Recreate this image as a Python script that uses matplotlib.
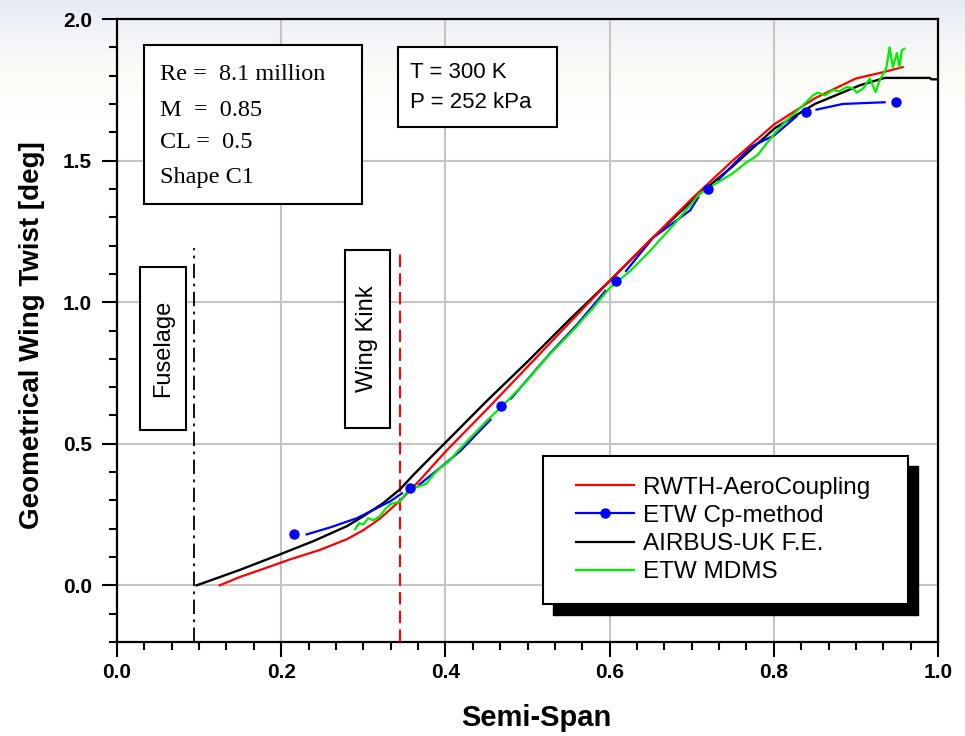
import numpy as np
import matplotlib
matplotlib.use("Agg")
import matplotlib.pyplot as plt
from matplotlib.lines import Line2D
from matplotlib.patches import Rectangle

# ---------------- data ----------------
rwth_x = [0.125, 0.15, 0.18, 0.211, 0.247, 0.28, 0.30, 0.32, 0.345, 0.369, 0.39, 0.402,
          0.45, 0.5, 0.55, 0.6, 0.631, 0.65, 0.7, 0.75, 0.8, 0.85, 0.9, 0.93, 0.957]
rwth_y = [0.0, 0.03, 0.06, 0.092, 0.125, 0.163, 0.195, 0.235, 0.30, 0.372, 0.44, 0.478,
          0.62, 0.772, 0.924, 1.075, 1.165, 1.22, 1.365, 1.50, 1.627, 1.72, 1.79, 1.81,
          1.83]

airbus_x = [0.097, 0.15, 0.199, 0.239, 0.28, 0.30, 0.324, 0.345, 0.361, 0.39, 0.45, 0.5,
            0.55, 0.6, 0.637, 0.65, 0.71, 0.75, 0.801, 0.85, 0.905, 0.935, 0.99, 0.992, 1.0]
airbus_y = [0.0, 0.055, 0.11, 0.156, 0.209, 0.244, 0.29, 0.34, 0.39, 0.475, 0.65, 0.79,
            0.935, 1.075, 1.182, 1.22, 1.384, 1.48, 1.614, 1.70, 1.766, 1.792, 1.792,
            1.787, 1.787]

cp_line_x = [0.231, 0.26, 0.292, 0.333, 0.347, np.nan,
             0.368, 0.393, 0.418, 0.455, np.nan,
             0.48, 0.527, 0.56, 0.595, np.nan,
             0.62, 0.653, 0.698, 0.708, np.nan,
             0.732, 0.771, 0.801, 0.828, np.nan,
             0.852, 0.884, 0.935]
cp_line_y = [0.18, 0.205, 0.237, 0.297, 0.325, np.nan,
             0.355, 0.414, 0.474, 0.585, np.nan,
             0.66, 0.818, 0.92, 1.04, np.nan,
             1.11, 1.228, 1.324, 1.37, np.nan,
             1.43, 1.547, 1.59, 1.657, np.nan,
             1.68, 1.70, 1.706]
cp_pts_x = [0.216, 0.357, 0.468, 0.608, 0.720, 0.839, 0.949]
cp_pts_y = [0.18, 0.343, 0.634, 1.076, 1.40, 1.67, 1.706]

mdms_x = [0.29, 0.295, 0.30, 0.306, 0.312, 0.32, 0.327, 0.333, 0.345, 0.352, 0.361, 0.368,
          0.377, 0.385, 0.393, 0.405, 0.415, 0.43, 0.45, 0.475, 0.499, 0.525, 0.555, 0.58,
          0.6, 0.625, 0.649, 0.68, 0.71, 0.73, 0.75, 0.765, 0.78, 0.801, 0.815, 0.832,
          0.848, 0.854, 0.862, 0.872, 0.88, 0.889, 0.896, 0.901, 0.909, 0.917, 0.924,
          0.929, 0.937, 0.941, 0.945, 0.95, 0.953, 0.956, 0.959]
mdms_y = [0.198, 0.22, 0.215, 0.237, 0.23, 0.244, 0.27, 0.287, 0.297, 0.325, 0.343, 0.35,
          0.36, 0.39, 0.414, 0.44, 0.474, 0.52, 0.58, 0.65, 0.722, 0.81, 0.899, 0.98,
          1.05, 1.11, 1.18, 1.28, 1.384, 1.42, 1.455, 1.49, 1.519, 1.596, 1.64, 1.685,
          1.731, 1.74, 1.73, 1.749, 1.745, 1.76, 1.756, 1.74, 1.755, 1.79, 1.742,
          1.784, 1.826, 1.90, 1.83, 1.88, 1.83, 1.89, 1.895]

fuselage_x = [0.094, 0.094]
fuselage_y = [-0.2, 1.19]
kink_x = [0.345, 0.345]
kink_y = [-0.2, 1.18]

labels = ["RWTH-AeroCoupling", "ETW Cp-method", "AIRBUS-UK F.E.", "ETW MDMS"]
xticks = [0.0, 0.2, 0.4, 0.6, 0.8, 1.0]
yticks = [0.0, 0.5, 1.0, 1.5, 2.0]

# ---------------- figure ----------------
W, H = 965, 736
fig = plt.figure(figsize=(W / 100, H / 100), dpi=100)
fig.patch.set_facecolor("white")

def fx(px):
    return px / W

def fy(py):
    return 1 - py / H

# background gradient
bg = fig.add_axes([0, 0, 1, 1], zorder=-10)
rows = np.arange(H)
stops_p = [0, 40, 70, 120, H]
cols = np.array([[0.90, 0.925, 0.955], [0.955, 0.962, 0.975], [0.985, 0.985, 0.965],
                 [1, 1, 1], [1, 1, 1]])
grad = np.stack([np.interp(rows, stops_p, cols[:, k]) for k in range(3)], axis=-1)
bg.imshow(grad[:, None, :], aspect="auto", extent=[0, 1, 0, 1])
bg.axis("off")

ax = fig.add_axes([fx(117), 1 - 642 / H, (938 - 117) / W, (642 - 19) / H])
ax.set_facecolor("none")
ax.set_xlim(0, 1.0)
ax.set_ylim(-0.2, 2.0)

ax.set_xticks(xticks)
ax.set_yticks(yticks)
ax.set_xticks(np.arange(0, 1.0001, 0.2 / 6), minor=True)
ax.set_yticks(np.arange(-0.2, 2.0001, 0.1), minor=True)
ax.set_xticklabels([f"{v:.1f}" for v in xticks])
ax.set_yticklabels([f"{v:.1f}" for v in yticks])
ax.grid(True, which="major", color="#c4c4c4", lw=1.5, zorder=0)
for s in ax.spines.values():
    s.set_linewidth(1.6)
    s.set_color("black")
ax.tick_params(which="major", direction="out", length=11, width=1.5, pad=4,
               top=False, right=False)
ax.tick_params(which="minor", direction="out", length=6, width=1.5,
               top=False, right=False)
ax.tick_params(axis="y", which="major", pad=7)
for lab in ax.get_xticklabels() + ax.get_yticklabels():
    lab.set_fontfamily("Liberation Sans")
    lab.set_fontweight("bold")
    lab.set_fontsize(15)

ax.set_xlabel("Semi-Span", fontfamily="Liberation Sans", fontweight="bold", fontsize=21)
ax.set_ylabel("Geometrical Wing Twist [deg]", fontfamily="Liberation Sans",
              fontweight="bold", fontsize=20)
ax.xaxis.set_label_coords((536 - 117) / 821, (642 - 718) / 623)
ax.yaxis.set_label_coords((32 - 117) / 821, (642 - 335) / 623)
ax.xaxis.label.set_va("center")
ax.yaxis.label.set_va("center")

# reference lines
ax.plot(fuselage_x, fuselage_y, color="black", lw=1.3, ls=(0, (8, 3, 1.5, 3)), zorder=3)
ax.plot(kink_x, kink_y, color="red", lw=1.5, ls=(0, (6, 3)), zorder=3)

# curves
ax.plot(airbus_x, airbus_y, color="black", lw=1.7, zorder=4)
ax.plot(rwth_x, rwth_y, color="#ff0000", lw=1.6, zorder=5)
ax.plot(mdms_x, mdms_y, color="#00ee00", lw=1.6, zorder=6)
ax.plot(cp_line_x, cp_line_y, color="#0000ff", lw=1.6, zorder=4.5)
ax.plot(cp_pts_x, cp_pts_y, ls="none", marker="o", ms=6.5, color="#0000ff", zorder=7)

# text boxes
def box(x0, y0, x1, y1):
    fig.patches.append(Rectangle((fx(x0), fy(y1)), fx(x1 - x0), (y1 - y0) / H,
                                 transform=fig.transFigure, facecolor="white",
                                 edgecolor="black", lw=1.5, zorder=8))

box(144, 45, 362, 204)
for txt, yy in zip(["Re =  8.1 million", "M  =  0.85", "CL =  0.5", "Shape C1"],
                   [75, 110, 143, 177]):
    fig.text(fx(160), fy(yy), txt, fontfamily="Liberation Serif", fontsize=17.5,
             va="center", ha="left", zorder=9)

box(398, 47, 557, 127)
for txt, yy in zip(["T = 300 K", "P = 252 kPa"], [72, 102]):
    fig.text(fx(410), fy(yy), txt, fontfamily="Liberation Sans", fontsize=16,
             va="center", ha="left", zorder=9)

box(140, 267, 186, 430)
fig.text(fx(163), fy(348), "Fuselage", fontfamily="Liberation Sans", fontsize=17,
         rotation=90, va="center", ha="center", zorder=9)
box(345, 250, 390, 428)
fig.text(fx(367), fy(339), "Wing Kink", fontfamily="Liberation Sans", fontsize=17,
         rotation=90, va="center", ha="center", zorder=9)

# legend with shadow
fig.patches.append(Rectangle((fx(553), fy(615)), fx(918 - 553), (615 - 466) / H,
                             transform=fig.transFigure, facecolor="black",
                             edgecolor="black", lw=1, zorder=8))
box(543, 456, 908, 604)
handles = [Line2D([], [], color="#ff0000", lw=1.6),
           Line2D([], [], color="#0000ff", lw=1.6, marker="o", ms=6.5),
           Line2D([], [], color="black", lw=1.6),
           Line2D([], [], color="#00ee00", lw=1.6)]
leg = fig.legend(handles, labels, loc="center left", bbox_to_anchor=(fx(576), fy(530)),
                 frameon=False, borderpad=0, borderaxespad=0, handlelength=2.4,
                 handletextpad=0.35, labelspacing=0.25, numpoints=1,
                 prop={"family": "Liberation Sans", "size": 17.5})
leg.set_zorder(10)

fig.savefig("out.png", dpi=100)
